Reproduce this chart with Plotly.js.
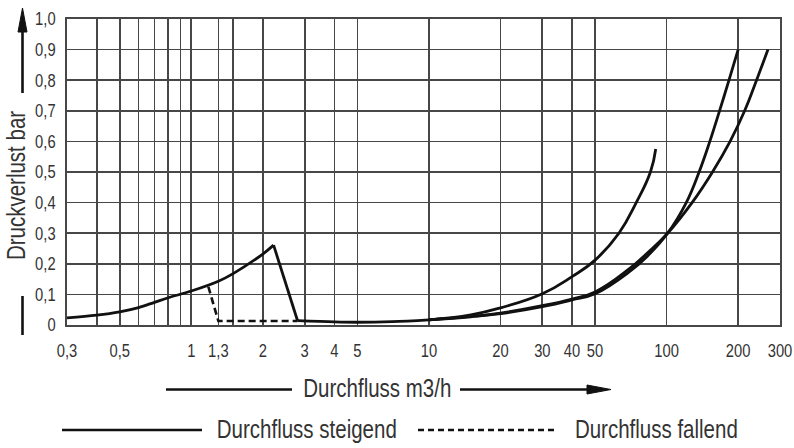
<!DOCTYPE html>
<html>
<head>
<meta charset="utf-8">
<script src="https://cdn.plot.ly/plotly-3.0.1.min.js"></script>
<style>
  html, body { margin: 0; padding: 0; background: #fff; }
  #chart { width: 794px; height: 448px; }
</style>
</head>
<body>
<div id="chart"></div>
<script>
// Durchfluss in m3/h, Druckverlust in bar

// rising flow, low range up to the switching point
const riseLowX = [0.3, 0.4, 0.5, 0.6, 0.7, 0.8, 1, 1.3, 1.5, 2, 2.22];
const riseLowY = [0.023, 0.032, 0.043, 0.057, 0.074, 0.089, 0.111, 0.143, 0.168, 0.232, 0.261];

// valve switches over
const dropX = [2.22, 2.8];
const dropY = [0.261, 0.014];

// flat part after switching
const flatX = [2.8, 4, 5, 7, 10];
const flatY = [0.014, 0.01, 0.009, 0.011, 0.017];

// three characteristic curves in the upper range
const curveAX = [10, 15, 20, 30, 40, 50, 63, 74.5, 85.5, 90];
const curveAY = [0.017, 0.033, 0.056, 0.102, 0.158, 0.212, 0.3, 0.4, 0.5, 0.575];
const curveBX = [10, 15, 20, 30, 40, 50, 70, 83, 101, 121, 137, 152, 167, 183, 200];
const curveBY = [0.017, 0.027, 0.037, 0.06, 0.082, 0.102, 0.175, 0.225, 0.3, 0.4, 0.5, 0.6, 0.7, 0.8, 0.9];
const curveCX = [10, 15, 20, 30, 40, 50, 70, 83, 101, 128, 156, 185, 213, 239, 267];
const curveCY = [0.017, 0.028, 0.039, 0.063, 0.085, 0.108, 0.185, 0.235, 0.3, 0.4, 0.5, 0.6, 0.7, 0.8, 0.9];

// falling flow
const fallX = [1.18, 1.3, 2.8];
const fallY = [0.125, 0.013, 0.013];

// axis ticks (empty text = grid line only)
const xTickVals = [0.3, 0.4, 0.5, 0.6, 0.7, 0.8, 0.9, 1, 1.3, 1.5, 2, 3, 4, 5, 10, 20, 30, 40, 50, 100, 200, 300];
const xTickText = ['0,3', '', '0,5', '', '', '', '', '1', '1,3', '', '2', '3', '4', '5', '10', '20', '30', '40', '50', '100', '200', '300'];
const yTickVals = [0, 0.1, 0.2, 0.3, 0.4, 0.5, 0.6, 0.7, 0.8, 0.9, 1.0];
const yTickText = ['0', '0,1', '0,2', '0,3', '0,4', '0,5', '0,6', '0,7', '0,8', '0,9', '1,0'];

const FONT = "'Liberation Sans', Arial, Helvetica, sans-serif";
const NARROW = 0.82;   // horizontal squeeze for a condensed look
const INK = '#111';
const TEXT = '#333';
const GRID = '#474747';

// plot area in pixels
const L = 67, T = 19, W = 713, H = 306;
const px = X => (X - L) / W;
const py = Y => (T + H - Y) / H;

function solid(x, y, shape, smooth) {
  return {
    x: x, y: y, type: 'scatter', mode: 'lines', hoverinfo: 'skip', showlegend: false,
    line: { color: INK, width: 2.8, shape: shape, smoothing: smooth || 1 }
  };
}

const traces = [
  solid(riseLowX, riseLowY, 'spline'),
  solid(dropX, dropY, 'linear'),
  solid(flatX, flatY, 'spline'),
  solid(curveAX, curveAY, 'spline', 1.3),
  solid(curveBX, curveBY, 'spline', 1.2),
  solid(curveCX, curveCY, 'spline', 1.3),
  {
    x: fallX, y: fallY, type: 'scatter', mode: 'lines', hoverinfo: 'skip', showlegend: false,
    line: { color: INK, width: 2.6, dash: '7px,4px' }
  }
];

function hline(x0, x1, y, dash) {
  return {
    type: 'line', xref: 'paper', yref: 'paper',
    x0: px(x0), x1: px(x1), y0: py(y), y1: py(y),
    line: { color: INK, width: 2.6, dash: dash || 'solid' }
  };
}
function vline(x, y0, y1) {
  return {
    type: 'line', xref: 'paper', yref: 'paper',
    x0: px(x), x1: px(x), y0: py(y0), y1: py(y1),
    line: { color: INK, width: 2.6 }
  };
}
function tri(pts) {
  const d = pts.map((p, i) => (i ? 'L' : 'M') + px(p[0]) + ',' + py(p[1])).join(' ') + ' Z';
  return { type: 'path', xref: 'paper', yref: 'paper', path: d, fillcolor: INK, line: { color: INK, width: 1 } };
}

const shapes = [
  // y axis direction marker
  vline(22.5, 93, 28),
  tri([[22.5, 8], [18, 32], [27, 32]]),
  vline(22.5, 296, 335),
  // x axis direction marker
  hline(166, 292, 389.5),
  hline(460, 592, 389.5),
  tri([[611, 389.5], [587, 385], [587, 394]]),
  // key
  hline(62, 202, 430),
  hline(418, 557, 430, '6px,4px')
];

function label(text, X, Y, angle) {
  return {
    text: text, textangle: angle || 0, showarrow: false,
    xref: 'paper', yref: 'paper', x: px(X), y: py(Y), xanchor: 'center', yanchor: 'middle',
    font: { family: FONT, size: 25, color: TEXT }
  };
}

const annotations = [
  label('Druckverlust bar', 16.5, 186, -90),
  label('Durchfluss m3/h', 377, 388),
  label('Durchfluss steigend', 306.5, 429),
  label('Durchfluss fallend', 656, 429)
];

const axisCommon = {
  tickmode: 'array',
  showgrid: true, gridcolor: GRID, gridwidth: 1.7,
  showline: true, mirror: true, linecolor: GRID, linewidth: 1.8,
  zeroline: false, ticks: '', ticklabeloverflow: 'allow',
  tickfont: { family: FONT, size: 18, color: TEXT }
};

const layout = {
  width: 794, height: 448,
  margin: { l: L, r: 794 - L - W, t: T, b: 448 - T - H, pad: 0 },
  paper_bgcolor: '#fff', plot_bgcolor: '#fff',
  showlegend: false,
  font: { family: FONT, color: TEXT, size: 18 },
  xaxis: Object.assign({}, axisCommon, {
    type: 'log',
    range: [Math.log10(0.3), Math.log10(300)],
    tickvals: xTickVals, ticktext: xTickText,
    ticklabelstandoff: 9
  }),
  yaxis: Object.assign({}, axisCommon, {
    range: [0, 1],
    tickvals: yTickVals, ticktext: yTickText,
    ticklabelstandoff: 6
  }),
  shapes: shapes,
  annotations: annotations
};

// squeeze every text horizontally around its own anchor point
function condense(gd) {
  gd.querySelectorAll('text').forEach(t => {
    const x = parseFloat(t.getAttribute('x')) || 0;
    const tr = t.getAttribute('transform') || '';
    t.setAttribute('transform', tr + ' translate(' + x + ',0) scale(' + NARROW + ',1) translate(' + (-x) + ',0)');
  });
}

Plotly.newPlot('chart', traces, layout, { staticPlot: true, displayModeBar: false })
  .then(gd => condense(gd));
</script>
</body>
</html>
